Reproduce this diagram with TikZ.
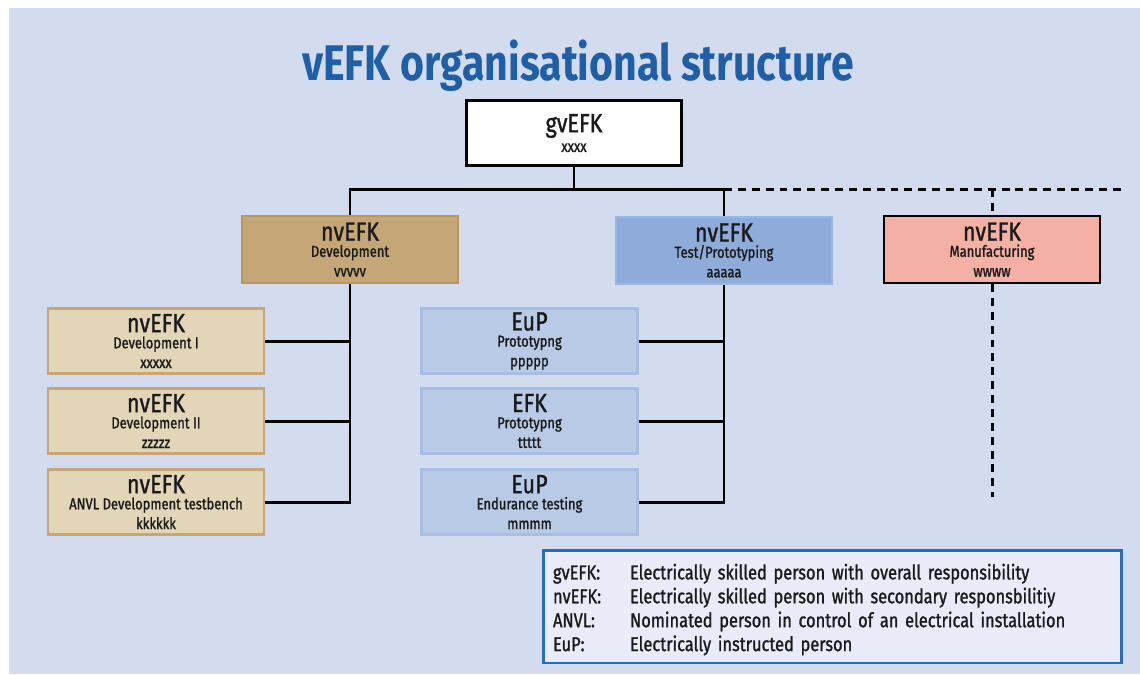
\documentclass[tikz,border=0pt]{standalone}
\usepackage{fontspec}
\setmainfont{Fira Sans}[FakeStretch=0.82]
\newfontfamily\medfont{Fira Sans}[FakeStretch=0.82, FakeBold=1.2]
\definecolor{bgblue}{HTML}{D3DCEE}
\definecolor{titleblue}{HTML}{1F5FA8}
\definecolor{devfill}{HTML}{C4A677}
\definecolor{devline}{HTML}{B9975E}
\definecolor{testfill}{HTML}{8FABD9}
\definecolor{testline}{HTML}{9BB6DF}
\definecolor{manufill}{HTML}{F4B0A4}
\definecolor{subdevfill}{HTML}{E2D5B8}
\definecolor{subdevline}{HTML}{C5A674}
\definecolor{subtestfill}{HTML}{B9CAE6}
\definecolor{subtestline}{HTML}{A7BEE2}
\definecolor{legfill}{HTML}{E9ECF8}
\definecolor{legline}{HTML}{2A6CB5}
\definecolor{ink}{HTML}{1A1A1A}
% three line label: role, unit, name
\newcommand{\unitlabel}[3]{{\fontsize{15}{9.2}\selectfont #1}\\{#2}\\[2pt]{#3}}
\begin{document}
\begin{tikzpicture}[x=0.02cm, y=-0.02cm,
  unit_style/.style={rectangle, align=center, text=ink, minimum width=4.32cm, minimum height=1.3cm,
    inner sep=0pt, font=\medfont\fontsize{9}{9.2}\selectfont},
  top_style/.style={unit_style, draw=black, fill=white, line width=1.7pt},
  dev_style/.style={unit_style, draw=devline, fill=devfill, line width=1.2pt, minimum height=1.34cm},
  test_style/.style={unit_style, draw=testline, fill=testfill, line width=1.2pt, minimum height=1.34cm},
  manu_style/.style={unit_style, draw=black, fill=manufill, line width=1.2pt, minimum height=1.34cm},
  subdev_style/.style={unit_style, draw=subdevline, fill=subdevfill, line width=1.2pt},
  subtest_style/.style={unit_style, draw=subtestline, fill=subtestfill, line width=1.2pt},
  link_style/.style={draw=black, line width=1.7pt},
  dash_style/.style={link_style, dash pattern=on 4.5pt off 3.4pt}]
  \useasboundingbox (0,0) rectangle (1140,674);
  \fill[bgblue] (9,8) rectangle (1140,674);

  \node[text=titleblue, font=\fontsize{28.5}{28.5}\selectfont\bfseries] (title) at (578,66) {vEFK organisational structure};

  \draw
    (574,133) node[top_style] (gv) {{\fontsize{15}{9.2}\selectfont gvEFK}\\[2pt]xxxx}
    (350,249.5) node[dev_style] (dev) {\unitlabel{nvEFK}{Development}{vvvvv}}
    (724,250.5) node[test_style] (test) {\unitlabel{nvEFK}{Test/Prototyping}{aaaaa}}
    (992,249.5) node[manu_style] (manu) {\unitlabel{nvEFK}{Manufacturing}{wwww}}
    (156,341) node[subdev_style] (dev1) {\unitlabel{nvEFK}{Development I}{xxxxx}}
    (156,421) node[subdev_style] (dev2) {\unitlabel{nvEFK}{Development II}{zzzzz}}
    (156,502) node[subdev_style] (dev3) {\unitlabel{nvEFK}{ANVL Development testbench}{kkkkkk}}
    (529.5,341) node[subtest_style] (test1) {\unitlabel{EuP}{Prototypng}{ppppp}}
    (529.5,421) node[subtest_style] (test2) {\unitlabel{EFK}{Prototypng}{ttttt}}
    (529.5,502) node[subtest_style] (test3) {\unitlabel{EuP}{Endurance testing}{mmmm}};

  \coordinate (bus) at (574,189);
  \coordinate (busend) at (1125,189);
  \coordinate (manuend) at (992,497);

  \draw[link_style] (gv.south) -- (bus);
  \draw[link_style] (dev.north) |- (bus) -| (test.north);
  \draw[dash_style] (test.north |- bus) -- (busend);
  \draw[dash_style] (manu.north |- bus) -- (manu.north);
  \draw[dash_style] (manu.south) -- (manuend);

  \draw[link_style] (dev.south) -- (dev.south |- dev3.east) -- (dev3.east);
  \draw[link_style] (test.south) -- (test.south |- test3.east) -- (test3.east);
  \foreach \n in {1,2} {
    \draw[link_style] (dev\n.east) -- (dev\n.east -| dev.south);
    \draw[link_style] (test\n.east) -- (test\n.east -| test.south);
  }

  \node[draw=legline, fill=legfill, line width=1.7pt, text=ink, minimum width=11.58cm, minimum height=2.26cm,
    text width=11.18cm, inner xsep=0.2cm, inner ysep=0.04cm, align=left, font=\medfont\fontsize{11.4}{13.6}\selectfont] (legend) at (832.5,606.5)
    {\raisebox{0pt}[\dimexpr\height+4.5pt\relax][\depth]{\begin{tabular}{@{}p{1.54cm}@{}l@{}}
      gvEFK: & Electrically skilled person with overall responsibility\\
      nvEFK: & Electrically skilled person with secondary responsbilitiy\\
      ANVL: & Nominated person in control of an electrical installation\\
      EuP: & Electrically instructed person
    \end{tabular}}};
\end{tikzpicture}
\end{document}
